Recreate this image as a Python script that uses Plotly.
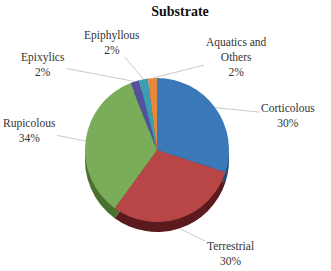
import math
import plotly.graph_objects as go

labels = ["Corticolous", "Terrestrial", "Rupicolous", "Epixylics", "Epiphyllous", "Aquatics and Others"]
values = [30, 30, 34, 2, 2, 2]
colors = ["#3A78B8", "#B84646", "#79AD5A", "#54509C", "#3A9EB5", "#E8873A"]
side_colors = ["#1F4A78", "#5A1A1E", "#4A7030", "#2E2A60", "#1E6070", "#9A5020"]
# label block centres (pixels from top-left)
label_pos = [(288, 115), (230, 253), (29, 130), (43, 64), (112, 42), (236, 57)]

W, H = 331, 271
CX, CY, R, DEPTH = 157, 150, 72, 10

fam = "Liberation Serif, Times New Roman, serif"

def px2paper(x, y):
    return x / W, 1 - y / H

x0, _ = px2paper(CX - R, 0)
x1, _ = px2paper(CX + R, 0)
_, ytop = px2paper(0, CY - R)
_, ybot = px2paper(0, CY + R)
dshift = DEPTH / H

fig = go.Figure()
fig.add_trace(go.Pie(
    labels=labels, values=values, sort=False, direction="clockwise", rotation=0,
    marker=dict(colors=side_colors, line=dict(width=0)), textinfo="none",
    domain=dict(x=[x0, x1], y=[ybot - dshift, ytop - dshift]),
    showlegend=False, hoverinfo="skip",
))
fig.add_trace(go.Pie(
    labels=labels, values=values, sort=False, direction="clockwise", rotation=0,
    marker=dict(colors=colors, line=dict(width=0)), textinfo="none",
    domain=dict(x=[x0, x1], y=[ybot, ytop]),
    showlegend=False,
))

total = sum(values)
cum = 0
annotations = []
for lab, v, (tx, ty) in zip(labels, values, label_pos):
    mid = (cum + v / 2) / total * 2 * math.pi
    cum += v
    ax_ = CX + R * math.sin(mid)
    ay_ = CY - R * math.cos(mid)
    if math.cos(mid) < 0:
        ay_ += DEPTH
    px, py = px2paper(ax_, ay_)
    text = lab.replace("and Others", "and<br>Others") + "<br>" + f"{v / total * 100:.0f}%"
    annotations.append(dict(
        x=px, y=py, xref="paper", yref="paper",
        ax=tx - ax_, ay=ty - ay_, axref="pixel", ayref="pixel",
        text=text, showarrow=True, arrowhead=0, arrowwidth=0.8, arrowcolor="#BBBBBB",
        standoff=0, startstandoff=0,
        font=dict(family=fam, size=11.5, color="#333333"), align="center",
    ))

fig.update_layout(
    width=W, height=H,
    margin=dict(l=0, r=0, t=0, b=0),
    paper_bgcolor="white",
    annotations=annotations,
    title=dict(text="<b>Substrate</b>", x=180 / W, xanchor="center", xref="paper",
               y=1 - 11 / H, yanchor="middle", yref="container",
               font=dict(family=fam, size=14, color="#111111")),
)
fig.write_html("out.html")
